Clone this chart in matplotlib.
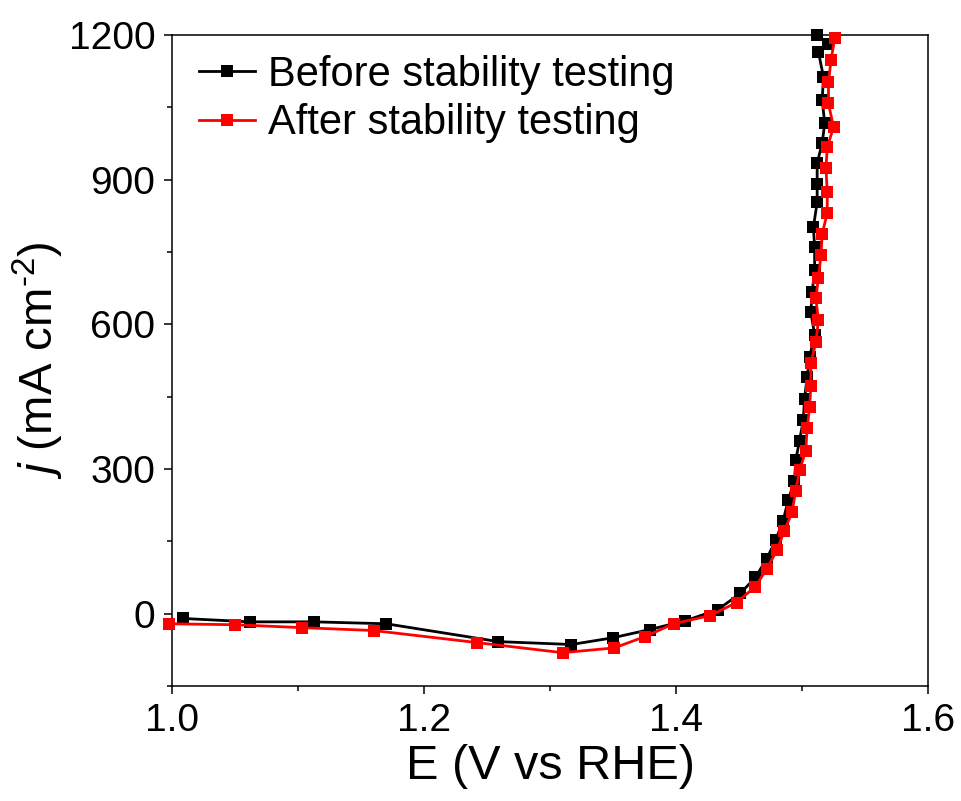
import matplotlib
matplotlib.use("Agg")
import matplotlib.pyplot as plt
from matplotlib.ticker import MultipleLocator

plt.rcParams['font.family'] = ['Liberation Sans', 'DejaVu Sans']
plt.rcParams['mathtext.fontset'] = 'custom'
plt.rcParams['mathtext.rm'] = 'Liberation Sans'
plt.rcParams['mathtext.it'] = 'Liberation Sans:italic'

# Before stability testing (black)
before_E = [1.0087, 1.062, 1.113, 1.170, 1.259, 1.317, 1.350, 1.379, 1.407, 1.433,
            1.451, 1.463, 1.472, 1.479, 1.485, 1.489, 1.494, 1.495, 1.498, 1.501,
            1.502, 1.504, 1.506, 1.510, 1.507, 1.508, 1.510, 1.510, 1.509, 1.512,
            1.512, 1.512, 1.516, 1.518, 1.516, 1.517, 1.513, 1.521, 1.512]
before_j = [-10, -17, -17, -21, -58, -64, -50, -33, -15, 8,
            42, 75, 114, 152, 193, 235, 276, 318, 359, 401,
            446, 490, 532, 578, 625, 666, 712, 760, 801, 853,
            892, 934, 976, 1017, 1065, 1113, 1165, 1182, 1200]

# After stability testing (red)
after_E = [0.998, 1.050, 1.103, 1.160, 1.242, 1.310, 1.351, 1.375, 1.398, 1.427,
           1.448, 1.463, 1.472, 1.480, 1.486, 1.492, 1.495, 1.498, 1.503, 1.504,
           1.506, 1.507, 1.507, 1.511, 1.513, 1.511, 1.513, 1.515, 1.516, 1.520,
           1.520, 1.519, 1.520, 1.525, 1.521, 1.521, 1.523, 1.526]
after_j = [-21, -23, -29, -35, -60, -81, -71, -48, -21, -4,
           23, 56, 93, 131, 172, 210, 255, 297, 338, 384,
           428, 473, 519, 563, 608, 654, 697, 743, 788, 830,
           874, 924, 967, 1009, 1058, 1102, 1148, 1194]

labels = ["Before stability testing", "After stability testing"]
x_ticks = [1.0, 1.2, 1.4, 1.6]
y_ticks = [0, 300, 600, 900, 1200]

fig = plt.figure(figsize=(9.61, 8.01), dpi=100)
ax = fig.add_axes([0.179, 0.1436, 0.7867, 0.8127])

ax.plot(before_E, before_j, color='black', lw=2.0, marker='s', ms=9.3,
        markeredgewidth=0, label=labels[0], clip_on=False, zorder=3)
ax.plot(after_E, after_j, color='red', lw=2.0, marker='s', ms=9.3,
        markeredgewidth=0, label=labels[1], clip_on=False, zorder=4)

ax.set_xlim(1.0, 1.6)
ax.set_ylim(-150, 1200)
ax.set_xticks(x_ticks)
ax.set_xticklabels([f"{v:.1f}" for v in x_ticks])
ax.set_yticks(y_ticks)
ax.xaxis.set_minor_locator(MultipleLocator(0.1))
ax.yaxis.set_minor_locator(MultipleLocator(150))

for s in ax.spines.values():
    s.set_linewidth(1.1)
ax.tick_params(which='major', direction='out', length=6, width=1.1,
               labelsize=28, pad=6, top=False, right=False)
ax.tick_params(which='minor', direction='out', length=3.5, width=1.1,
               top=False, right=False)

ax.set_xlabel("E (V vs RHE)", fontsize=35, labelpad=4)
ax.set_ylabel(r"$\mathit{j}$ (mA cm$^{\text{-2}}$)", fontsize=34, labelpad=2)

ax.legend(loc='upper left', bbox_to_anchor=(0.011, 0.998), frameon=False,
          fontsize=30, handlelength=1.35, handletextpad=0.3, labelspacing=0.2,
          borderaxespad=0.3, borderpad=0.15)

fig.savefig("out.png", dpi=100)
